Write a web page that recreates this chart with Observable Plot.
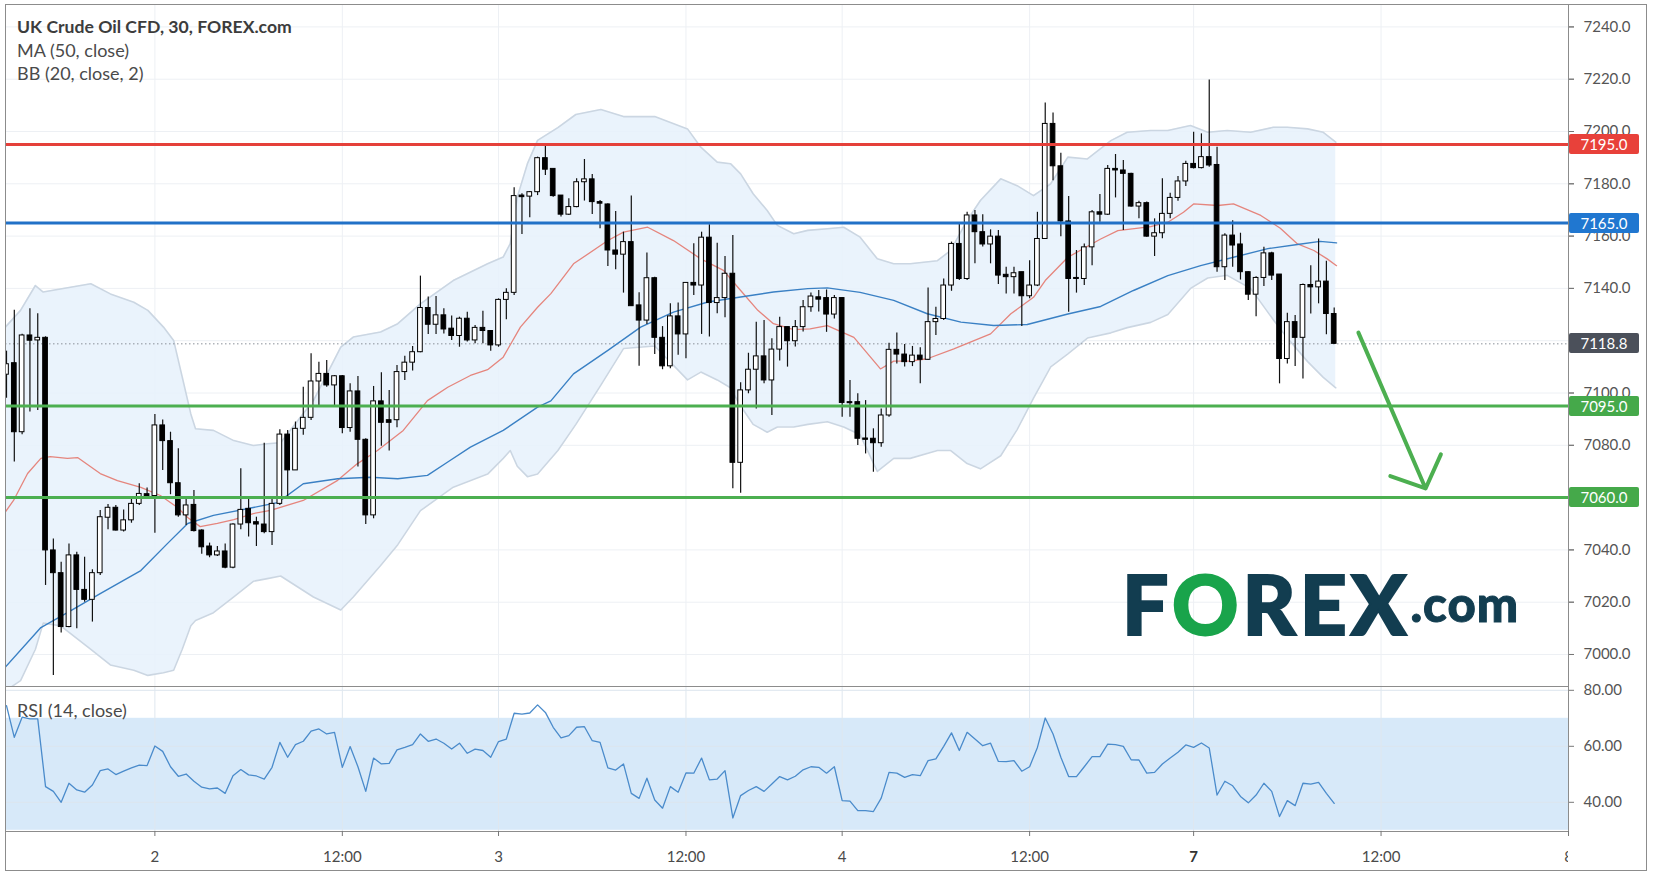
<!DOCTYPE html>
<html><head><meta charset="utf-8">
<script src="https://cdn.jsdelivr.net/npm/d3@7"></script>
<script src="https://cdn.jsdelivr.net/npm/@observablehq/plot@0.6"></script>
<style>
html,body{margin:0;padding:0;background:#fff;overflow:hidden;}
#wrap{position:relative;width:1655px;height:875px;overflow:hidden;font-family:Lato,"Open Sans",sans-serif;}
#wrap svg{position:absolute;left:0;}
.txt{position:absolute;white-space:nowrap;color:#4a4a4a;font-size:18px;line-height:20px;}
.badge{position:absolute;left:1569px;width:70px;height:20px;line-height:20px;text-align:center;color:#fff;font-size:15px;border-radius:2px;}
#border{position:absolute;left:5px;top:4px;width:1642px;height:867px;border:1px solid #8c8c8c;box-sizing:border-box;pointer-events:none;}
</style></head><body><div id="wrap"></div>
<script>
// ---------------- data ----------------
const openP = [7107,7111.4,7085.0,7122.0,7120.1,7121.1,7039.8,7031.1,7010.5,7037.9,7024.7,7020.9,7031.1,7052.3,7056.1,7047.4,7051.3,7057.6,7061.3,7060.6,
7087.6,7081.6,7065.5,7053.2,7057.2,7047.4,7041.3,7037.9,7039.4,7033.2,7049.7,7055.7,7050.6,7049.7,7046.8,7057.6,7084.1,7070.4,7086.3,7090.5,
7104.4,7107.3,7102.9,7106.4,7086.6,7100.6,7082.1,7053.2,7096.8,7089.6,7089.6,7108.0,7111.6,7115.6,7132.5,7126.1,7129.7,7124.6,7121.8,7128.4,
7120.1,7124.9,7123.7,7118.2,7135.6,7138.3,7175.5,7175.1,7176.8,7189.8,7185.7,7175.5,7168.2,7171.1,7180.6,7181.7,7173.0,7172.1,7154.5,7152.9,
7157.7,7133.5,7127.7,7143.9,7121.1,7110.2,7129.3,7122.4,7142.1,7141.1,7159.4,7134.4,7136.3,7145.6,7073.3,7101.0,7108.9,7114.0,7104.8,7116.6,
7125.2,7119.8,7125.2,7132.8,7136.6,7136.3,7130.0,7136.3,7096.5,7096.5,7082.6,7082.5,7080.8,7091.4,7116.5,7114.7,7111.8,7114.3,7112.7,7127.1,
7128.3,7141.1,7157.0,7143.6,7167.9,7161.5,7156.8,7159.8,7145.2,7144.3,7146.2,7137.0,7141.1,7158.9,7202.9,7186.7,7165.6,7144.0,7143.6,7155.7,
7169.1,7168.2,7185.7,7185.1,7183.8,7171.3,7172.6,7159.8,7161.1,7168.5,7174.6,7180.9,7187.6,7186.0,7190.2,7187.2,7148.1,7160.2,7156.8,7146.2,
7137.6,7144.0,7153.4,7145.3,7113.0,7127.1,7121.1,7141.3,7140.4,7142.6,7130.2];
const highP = [7116,7131.6,7122.5,7132.2,7130.3,7121.5,7044.2,7035.3,7042.3,7039.1,7037.2,7032.4,7055.1,7057.4,7057.0,7055.3,7059.9,7065.3,7063.7,7091.8,
7089.7,7085.0,7078.7,7060.2,7062.7,7047.7,7042.6,7041.3,7042.3,7050.0,7071.0,7060.2,7052.5,7080.8,7059.5,7085.9,7085.7,7088.9,7102.2,7115.0,
7111.8,7112.4,7106.7,7106.7,7103.5,7106.3,7082.5,7102.5,7107.7,7101.0,7110.5,7114.1,7117.8,7144.7,7136.7,7136.9,7132.2,7129.4,7129.0,7130.9,
7125.8,7131.3,7123.9,7136.0,7139.9,7178.5,7176.2,7177.1,7190.2,7194.7,7185.7,7175.5,7174.3,7181.9,7189.3,7183.6,7173.6,7172.4,7169.4,7161.5,
7175.3,7138.3,7153.5,7144.3,7125.4,7134.1,7134.4,7142.1,7157.1,7161.5,7164.3,7157.3,7152.2,7160.2,7103.9,7115.2,7127.1,7127.7,7120.7,7129.0,
7125.2,7127.7,7135.4,7138.2,7139.2,7139.4,7137.3,7136.4,7104.8,7099.7,7097.1,7086.3,7093.9,7119.0,7122.9,7118.5,7117.8,7117.3,7140.2,7132.8,
7143.6,7157.7,7164.7,7169.1,7169.8,7168.2,7162.4,7162.1,7148.1,7148.1,7146.2,7150.6,7169.1,7210.9,7207.1,7191.7,7175.1,7154.5,7157.0,7169.8,
7175.9,7187.0,7191.2,7188.9,7184.0,7173.3,7173.0,7166.6,7181.9,7176.4,7182.8,7188.6,7199.7,7199.1,7219.7,7194.0,7160.9,7165.9,7161.1,7146.4,
7144.5,7155.7,7153.8,7145.3,7130.5,7129.6,7141.7,7148.7,7158.9,7150.4,7132.5];
const lowP = [7098,7073.6,7084.0,7092.7,7093.3,7026.4,6992.0,7008.2,7010.2,7009.8,7020.0,7012.4,7030.2,7047.7,7047.2,7046.8,7050.2,7057.0,7059.5,7046.4,
7070.4,7061.1,7052.5,7049.3,7046.8,7038.3,7037.0,7037.5,7032.8,7032.8,7047.7,7044.9,7041.3,7046.2,7041.7,7057.0,7060.2,7070.4,7083.8,7089.5,
7094.9,7102.2,7095.2,7084.4,7085.0,7071.7,7049.7,7051.9,7079.6,7077.8,7086.7,7104.8,7108.4,7115.4,7122.4,7122.4,7122.6,7120.1,7117.5,7119.5,
7118.8,7118.8,7116.0,7117.5,7128.0,7137.3,7160.6,7167.0,7175.5,7183.2,7174.9,7167.3,7167.9,7170.8,7173.4,7168.3,7162.8,7148.4,7147.1,7138.2,
7133.2,7110.2,7126.2,7114.7,7108.9,7109.3,7114.4,7113.1,7137.3,7122.4,7121.4,7130.3,7128.8,7063.4,7061.7,7099.7,7093.9,7103.5,7091.4,7112.2,
7109.9,7117.6,7123.3,7130.9,7131.0,7123.2,7128.3,7090.7,7090.7,7079.9,7076.7,7069.7,7079.3,7090.7,7111.1,7109.9,7110.1,7103.5,7112.4,7122.0,
7127.7,7138.9,7143.0,7143.0,7149.4,7155.8,7149.4,7141.5,7137.9,7137.9,7125.4,7136.0,7140.7,7158.9,7181.2,7159.8,7130.9,7138.2,7141.1,7148.7,
7165.3,7167.9,7174.6,7162.1,7171.0,7166.6,7159.6,7152.2,7159.0,7166.6,7173.3,7179.0,7185.7,7185.7,7186.3,7146.2,7143.0,7148.1,7143.2,7135.4,
7129.2,7140.7,7143.0,7103.5,7111.1,7110.1,7105.4,7130.2,7134.1,7122.3,7118.5];
const closeP = [7111,7085.0,7122.0,7120.0,7121.1,7039.8,7031.1,7010.5,7037.9,7024.7,7020.9,7031.1,7052.5,7056.1,7047.4,7051.3,7057.6,7061.4,7060.6,7087.6,
7081.6,7065.5,7053.2,7057.0,7047.2,7041.0,7037.9,7039.4,7033.2,7049.7,7055.3,7050.2,7049.7,7046.8,7057.6,7084.1,7070.4,7086.3,7090.5,7104.4,
7107.3,7102.9,7106.4,7086.6,7100.6,7082.1,7053.2,7096.8,7088.6,7088.6,7108.0,7111.6,7115.6,7132.5,7126.1,7129.7,7124.3,7121.8,7128.4,7120.1,
7124.9,7123.7,7118.2,7135.6,7138.3,7175.3,7174.9,7176.8,7189.8,7185.4,7175.3,7168.2,7171.1,7180.6,7181.7,7173.0,7172.4,7154.5,7152.9,7157.7,
7133.2,7127.7,7143.9,7121.1,7110.2,7129.3,7122.4,7142.1,7141.1,7159.4,7134.4,7136.3,7145.6,7073.3,7101.0,7108.9,7114.0,7104.8,7116.6,7125.2,
7119.8,7125.2,7132.8,7136.9,7135.7,7130.0,7136.3,7096.2,7096.1,7082.5,7082.1,7080.8,7091.4,7116.5,7114.7,7111.8,7114.3,7112.7,7127.1,7128.3,
7141.1,7157.0,7143.6,7167.9,7161.5,7156.8,7159.8,7144.9,7144.3,7145.8,7137.0,7141.1,7158.9,7202.9,7186.7,7165.6,7143.6,7143.6,7155.7,7169.1,
7168.2,7185.7,7185.1,7183.8,7171.3,7172.6,7159.8,7161.1,7168.5,7174.6,7180.9,7187.6,7186.0,7190.2,7187.0,7148.1,7160.2,7156.4,7146.2,7137.6,
7144.0,7153.4,7144.9,7113.0,7127.1,7121.1,7141.3,7140.4,7142.6,7130.2,7118.8];

// MA (50, close)
const maIdx = [-0.2,4.4,7.8,12,17.2,20.6,23.2,26.5,31.6,34.7,38,42.4,46.6,50.1,53.9,56.5,59.4,63.6,68,69.7,72.6,77,81.2,85.4,89.8,94,98.2,102.6,105.1,109.3,113.6,117.9,122.2,126.4,130.7,135.9,140.1,144.3,148.7,152.9,157.1,161.5,165.3,168.2,170.3];
const maVal = [6995,7010.3,7016,7023.3,7032.1,7042.4,7050.1,7053.2,7056.2,7058.1,7065.3,7067.2,7067.8,7067.2,7068.5,7073.6,7079.3,7085.7,7094.6,7097,7107.3,7116.3,7125.2,7130.9,7134.8,7136.7,7138.6,7139.9,7140.2,7138.5,7135.4,7130.3,7127.1,7125.8,7126.2,7130.2,7133.1,7139.2,7144.9,7148.7,7151.9,7155.2,7156.8,7158.0,7157.4];

// BB (20, close, 2): basis
const bbMidIdx = [-0.2,0.9,2.7,4.4,5.6,7.8,9.1,12.0,14.2,17.2,19.7,21.9,23.2,24.8,27.0,29.1,31.6,33.8,38.0,42.4,44.9,47.5,50.8,53.9,56.5,59.4,61.6,63.6,65.8,68.0,69.7,72.6,77.0,79.0,82.1,85.4,88.9,91.8,94.0,96.2,98.2,100.8,102.9,105.1,108.5,111.9,113.6,115.7,117.9,121.3,126.0,128.6,131.5,133.0,135.9,140.1,142.3,146.5,148.7,150.7,152.0,155.1,157.1,160.6,163.1,165.3,167.4,169.1,170.3];
const bbMidVal = [7054.3,7058.9,7069.2,7075.0,7075.7,7075.0,7075.3,7069.2,7066.5,7063.9,7060.8,7056.2,7052.4,7048.9,7050.1,7051.6,7053.9,7055.1,7058.9,7066.6,7072.9,7078.0,7085.7,7097.1,7102.2,7106.7,7108.9,7113.7,7125.2,7132.8,7138,7149.4,7158.3,7161.5,7163.4,7158.3,7151.3,7146.9,7139.2,7131.6,7126.5,7124.2,7124.5,7125.8,7121.3,7109.2,7112.2,7112.2,7113.1,7116.9,7122.6,7130.3,7136.6,7143,7151.9,7158.9,7162.1,7163.6,7165.3,7169.1,7172.3,7171.7,7172.3,7167.9,7163,7157.0,7154.5,7151.3,7148.7];
// BB bands
const bbIdx = [-0.2,1.8,3.7,4.7,6.9,10.8,13.3,16.3,18.1,20.1,21.4,22.5,23.6,24.2,26.5,29.1,31.6,33.4,35.1,39.3,42.8,44.4,47.9,50.1,53.0,57.2,61.6,63.6,64.5,65.4,66.7,68.0,70.6,72.9,76.1,79.0,83.0,87.2,88.9,91.0,92.7,94.0,95.6,97.4,98.7,100.8,102.6,105.1,107.2,109.3,111.5,113.6,115.7,119.2,120.9,123.0,124.7,127.3,129.4,131.5,133.7,135.9,138.4,141.4,143.5,146.5,148.7,151.6,153.8,156.3,159.3,162.2,164.0,166.6,168.6,170.2];
const bbUpper = [7125,7131.6,7141.1,7138.6,7139.8,7141.8,7137.9,7134.7,7131.6,7125.2,7120.1,7106.1,7092.0,7086.3,7085.7,7081.8,7079.9,7080.6,7081,7097.1,7117.5,7121.4,7123.3,7126.5,7134.1,7143.0,7149.4,7152.0,7157.1,7174.9,7187.7,7196.6,7201.5,7206.5,7208.4,7205.7,7205.7,7201.0,7194.0,7188.3,7187.7,7183.8,7176.2,7169.8,7164.1,7160.9,7162.2,7162.8,7163.4,7159.6,7151.3,7149.4,7149.4,7150.6,7154.5,7166.0,7173.6,7181.9,7179.3,7175.5,7180.0,7190.2,7189.5,7196.5,7199.7,7200.4,7200.4,7202.3,7199.7,7200.4,7199.7,7201.6,7201.6,7201.0,7199.7,7195.9];
const bbLower = [6986,6990,7002,7012,7011,7002,6996,6994,6992,6993,6994,7002,7011,7013,7016,7022,7028,7029,7030,7022,7017,7022,7034,7042,7055,7064,7069,7075,7078,7072,7068,7069,7078,7088,7103,7117,7118,7105,7108,7105,7102,7095,7088,7085,7087,7087,7088,7089,7087,7084,7070,7075,7075,7078,7078,7073,7071,7076,7086,7098,7110,7115,7121,7123,7125,7127,7130,7140,7144,7145,7140,7128,7121,7112,7106,7102];

// RSI (14, close), one value per bar
const rsiVal = [74.5,63.2,70.4,69.8,69.8,45.6,43.9,40.0,46.8,44.4,43.6,46.2,51.3,51.9,49.9,51.1,52.3,53.3,53.1,60.1,
58.2,52.7,49.3,50.1,47.5,45.4,44.8,45.1,43.2,49.5,51.7,49.8,49.4,48.3,52.5,61.4,56.1,60.6,61.8,65.4,
66.2,64.4,65.0,52.5,59.9,52.7,43.9,55.8,53.7,53.9,58.7,59.6,60.6,64.4,61.8,62.6,61.1,59.0,61.1,57.5,
59.0,58.5,56.1,61.7,62.6,71.8,71.5,71.9,74.8,72.1,66.8,63.0,63.8,66.8,67.0,62.0,61.4,52.3,51.5,53.7,
43.2,41.4,48.6,40.8,37.9,45.6,43.6,50.5,50.4,55.8,48.0,48.3,51.3,34.4,42.4,44.2,45.6,43.9,46.5,49.2,
48.0,49.3,51.6,52.7,52.5,50.4,52.7,40.6,40.4,37.0,37.0,36.7,41.5,50.7,50.4,48.9,49.9,49.5,54.9,55.5,
60.0,64.8,58.5,65.0,62.6,60.2,61.1,54.6,54.5,54.9,51.1,52.7,59.6,70.1,64.4,56.1,49.2,49.2,52.7,56.3,
56.3,60.8,60.6,60.0,55.2,55.1,50.4,50.7,53.7,55.8,57.9,60.5,59.6,61.2,59.4,42.6,47.5,45.9,42.1,39.8,
42.6,46.8,43.9,34.9,40.6,38.8,46.8,46.5,47.1,43.2,39.6];
const rsiBand = [30, 70];

// horizontal levels drawn on the chart
const levelPrice = [7195, 7165, 7095, 7060];
const lastPrice = 7118.8;

// time axis (bar index of each label)
const timeTickIdx = [19, 43, 63, 87, 107, 131, 152, 176, 200];
const timeTickLabel = ["2", "12:00", "3", "12:00", "4", "12:00", "7", "12:00", "8"];
const timeTickBold = [false, false, false, false, false, false, true, false, false];

const priceTicks = [7000, 7020, 7040, 7060, 7080, 7100, 7120, 7140, 7160, 7180, 7200, 7220, 7240];
const priceLabelTicks = [7000, 7020, 7040, 7060, 7080, 7100, 7140, 7160, 7180, 7200, 7220, 7240];
const rsiTicks = [40, 60, 80];

// forecast arrow (bar index, price)
const arrowStart = [173.1, 7123.1];
const arrowEnd = [181.7, 7063.5];

// ---------------- styles ----------------
const levelColor = ["#e5403a", "#2171c7", "#4caf50", "#4caf50"];
const badgeColor = ["#e8413a", "#2077d0", "#45a94a", "#45a94a"];
const X_DOMAIN = [-0.128, 200.0];

// ---------------- build ----------------
const candles = openP.map((o, i) => ({i, o, h: highP[i], l: lowP[i], c: closeP[i], up: closeP[i] >= o}));
const ma = maIdx.map((x, k) => ({x, v: maVal[k]}));
const mid = bbMidIdx.map((x, k) => ({x, v: bbMidVal[k]}));
const bb = bbIdx.map((x, k) => ({x, up: bbUpper[k], lo: bbLower[k]}));
const rsi = rsiVal.map((v, i) => ({i, v}));
const levels = levelPrice.map((v, k) => ({v, k}));
const tt = timeTickIdx.map((x, k) => ({x, label: timeTickLabel[k], bold: timeTickBold[k]}));
const grid = "#edf0f4";

const common = {
  width: 1655, marginLeft: 5, marginRight: 87,
  x: {domain: X_DOMAIN, axis: null},
  style: {fontFamily: "Lato, sans-serif", fontSize: "15px", color: "#555", background: "transparent", overflow: "visible"}
};

const price = Plot.plot({
  ...common, height: 688, marginTop: 4, marginBottom: 2,
  y: {domain: [6987.76, 7248.57], axis: null},
  marks: [
    Plot.ruleY(priceTicks, {stroke: grid}),
    Plot.ruleX(timeTickIdx, {stroke: grid}),
    Plot.areaY(bb, {x: "x", y1: "lo", y2: "up", fill: "#e6f1fc", fillOpacity: 0.85, clip: true}),
    Plot.lineY(bb, {x: "x", y: "up", stroke: "#cbd6e2", strokeWidth: 1.6, clip: true}),
    Plot.lineY(bb, {x: "x", y: "lo", stroke: "#cbd6e2", strokeWidth: 1.6, clip: true}),
    Plot.ruleY([lastPrice], {stroke: "#8a8f99", strokeDasharray: "1.5,2.5"}),
    Plot.lineY(mid, {x: "x", y: "v", stroke: "#e5857d", strokeWidth: 1.3, clip: true}),
    Plot.lineY(ma, {x: "x", y: "v", stroke: "#3a80c4", strokeWidth: 1.4, clip: true}),
    Plot.ruleX(candles, {x: "i", y1: "l", y2: "h", stroke: "#111", strokeWidth: 1.2, clip: true}),
    Plot.rect(candles, {x1: d => d.i - 0.3, x2: d => d.i + 0.3, y1: "o", y2: "c", fill: d => d.up ? "#fff" : "#000", stroke: "#000", strokeWidth: 1, clip: true}),
    Plot.ruleY(levels, {y: "v", stroke: d => levelColor[d.k], strokeWidth: 3}),
    Plot.arrow([{s: arrowStart, e: arrowEnd}], {x1: d => d.s[0], y1: d => d.s[1], x2: d => d.e[0], y2: d => d.e[1], stroke: "#4caf50", strokeWidth: 4, headLength: 14, headAngle: 95}),
    Plot.axisY(priceTicks, {anchor: "right", tickSize: 5, label: null, text: null, stroke: "#777"}),
    Plot.axisY(priceLabelTicks, {anchor: "right", tickSize: 5, tickPadding: 10, label: null, tickFormat: d => d.toFixed(1), stroke: "#777"}),
    Plot.frame({stroke: "#8c8c8c"})
  ]
});

const rsiPlot = Plot.plot({
  ...common, height: 146, marginTop: 0, marginBottom: 1,
  y: {domain: [29.57, 81.36], axis: null},
  marks: [
    Plot.rect([rsiBand], {y1: d => d[0], y2: d => d[1], fill: "#d7e9f9"}),
    Plot.ruleY(rsiTicks, {stroke: "#dde5ee"}),
    Plot.ruleX(timeTickIdx, {stroke: "#dfe7ef"}),
    Plot.lineY(rsi, {x: "i", y: "v", stroke: "#4a8bcb", strokeWidth: 1.3}),
    Plot.axisY(rsiTicks, {anchor: "right", tickSize: 5, tickPadding: 10, label: null, tickFormat: d => d.toFixed(2), stroke: "#777"}),
    Plot.frame({stroke: "#8c8c8c"})
  ]
});

const timePlot = Plot.plot({
  ...common, height: 44, marginTop: 0, marginBottom: 0,
  marks: [
    Plot.ruleX(tt, {x: "x", insetBottom: 39, stroke: "#777"}),
    Plot.text(tt.filter(d => !d.bold), {x: "x", text: "label", frameAnchor: "top", dy: 20, fontSize: 15, fill: "#4a4a4a", clip: true}),
    Plot.text(tt.filter(d => d.bold), {x: "x", text: "label", frameAnchor: "top", dy: 20, fontSize: 15, fontWeight: "bold", fill: "#333", clip: true})
  ]
});

const wrap = document.getElementById("wrap");
price.style.top = "0px";
rsiPlot.style.top = "686px";
timePlot.style.top = "831px";
wrap.append(price, rsiPlot, timePlot);

// price badges positioned through the plot's y scale
const ys = price.scale("y");
function badge(v, color) {
  const d = document.createElement("div");
  d.className = "badge";
  d.style.top = (ys.apply(v) - 10) + "px";
  d.style.background = color;
  d.textContent = v.toFixed(1);
  wrap.append(d);
}
levels.forEach(l => badge(l.v, badgeColor[l.k]));
badge(lastPrice, "#4b505a");

// legend texts
function txt(s, x, y, extra) {
  const d = document.createElement("div");
  d.className = "txt";
  d.style.left = x + "px"; d.style.top = y + "px";
  d.textContent = s;
  if (extra) Object.assign(d.style, extra);
  wrap.append(d);
}
txt("UK Crude Oil CFD, 30, FOREX.com", 17, 17, {fontWeight: "bold", color: "#3c3c3c", fontSize: "17.6px"});
txt("MA (50, close)", 17, 40);
txt("BB (20, close, 2)", 17, 63);
txt("RSI (14, close)", 17, 700);

// watermark logo
const logo = document.createElement("div");
logo.style.cssText = "position:absolute;left:1122px;top:548px;font-family:Lato,sans-serif;font-weight:900;font-size:82px;line-height:110px;color:#123d50;letter-spacing:4px;white-space:nowrap;-webkit-text-stroke:2px #123d50;";
logo.innerHTML = 'F<span style="color:#19a44b;-webkit-text-stroke:2px #19a44b;">O</span>REX<span style="font-size:49px;letter-spacing:1px;position:relative;top:-13px;-webkit-text-stroke:1px #123d50;">.com</span>';
wrap.append(logo);

const border = document.createElement("div");
border.id = "border";
wrap.append(border);
</script>
</body></html>
